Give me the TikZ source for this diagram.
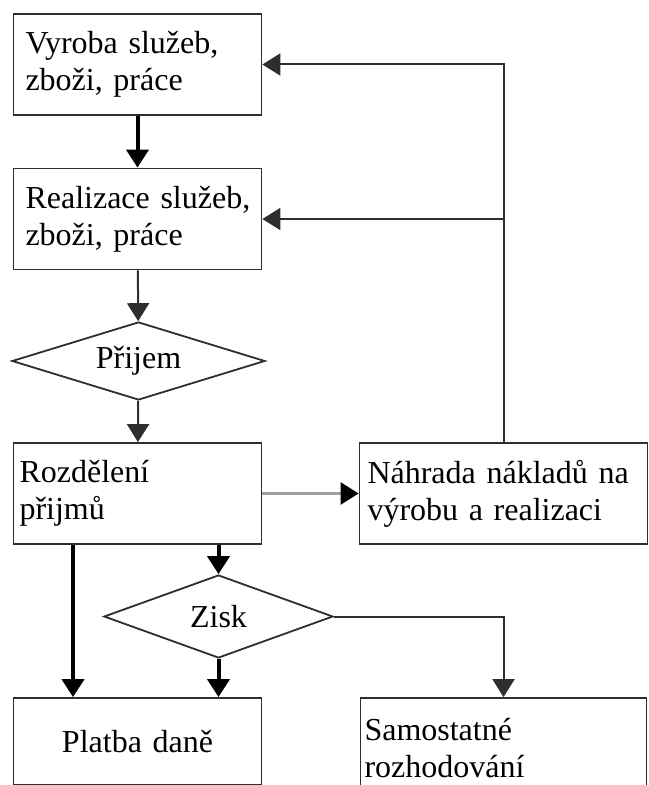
\documentclass[tikz,border=0pt]{standalone}
\usepackage{fontspec}
\setmainfont{Liberation Serif}
\usepackage{tikz}
\usetikzlibrary{shapes,arrows,arrows.meta}
\definecolor{edge}{rgb}{0.18, 0.18, 0.18}
\definecolor{pale}{rgb}{0.62, 0.62, 0.62}
\tikzstyle{box}=[draw=edge, line width=0.9pt, minimum height=50.5pt, text width=112pt, inner xsep=6pt, align=left, font=\fontsize{16}{18.5}\selectfont]
\tikzstyle{wide box}=[box, text width=136pt, inner xsep=4pt]
\tikzstyle{decision}=[diamond, draw=edge, line width=0.9pt, inner sep=0pt, font=\fontsize{16}{18.5}\selectfont]
\tikzstyle{flow}=[line width=1pt, -{Triangle[width=11pt,length=9pt]}]
\tikzstyle{strong flow}=[line width=2pt, -{Triangle[width=11pt,length=9pt]}]

\begin{document}
\begin{tikzpicture}[x=0.5pt, y=-0.5pt]
\useasboundingbox (0,0) rectangle (648,785);
\clip (0,0) rectangle (648,785);
\node[box] (vyroba) at (137.5,64.5) {\mbox{Vyroba služeb,}\\zboži, práce};
\node[box] (realizace) at (137.5,219) {\mbox{Realizace služeb,}\\zboži, práce};
\node[decision, minimum width=126.5pt, minimum height=39pt, aspect=3.2] (prijem) at (138.5,361) {Přijem};
\node[box, inner xsep=3pt, text width=118pt] (rozdeleni) at (137.5,493.5) {Rozdělení\\přijmů};
\node[wide box] (nahrada) at (503.5,493.5) {\mbox{Náhrada nákladů na}\\výrobu a realizaci};
\node[decision, minimum width=114.5pt, minimum height=41.5pt, aspect=2.76] (zisk) at (218.5,616.5) {Zisk};
\node[box, align=center, minimum height=43.5pt] (platba) at (137.5,741.5) {Platba daně};
\node[wide box, inner xsep=2pt, text width=139pt] (samostatne) at (503.5,748.5) {Samostatné\\rozhodování};
\draw[strong flow] (vyroba) -- (realizace);
\draw[flow, edge] (realizace) -- (prijem);
\draw[flow, edge] (prijem) -- (rozdeleni);
\draw[flow, pale, line width=1.3pt, arrows={-{Triangle[width=11pt,length=9pt,color=black]}}] (rozdeleni) -- (nahrada);
\draw[flow, edge] (nahrada.north) |- (vyroba.east);
\draw[flow, edge] (nahrada.north |- realizace.east) -- (realizace.east);
\draw[strong flow] (rozdeleni.south -| zisk.north) -- (zisk.north);
\draw[strong flow] ([xshift=-32.25pt]rozdeleni.south) -- ([xshift=-32.25pt]platba.north);
\draw[strong flow] (zisk.south) -- (zisk.south |- platba.north);
\draw[flow, edge] (zisk.east) -| (samostatne.north);
\end{tikzpicture}
\end{document}
